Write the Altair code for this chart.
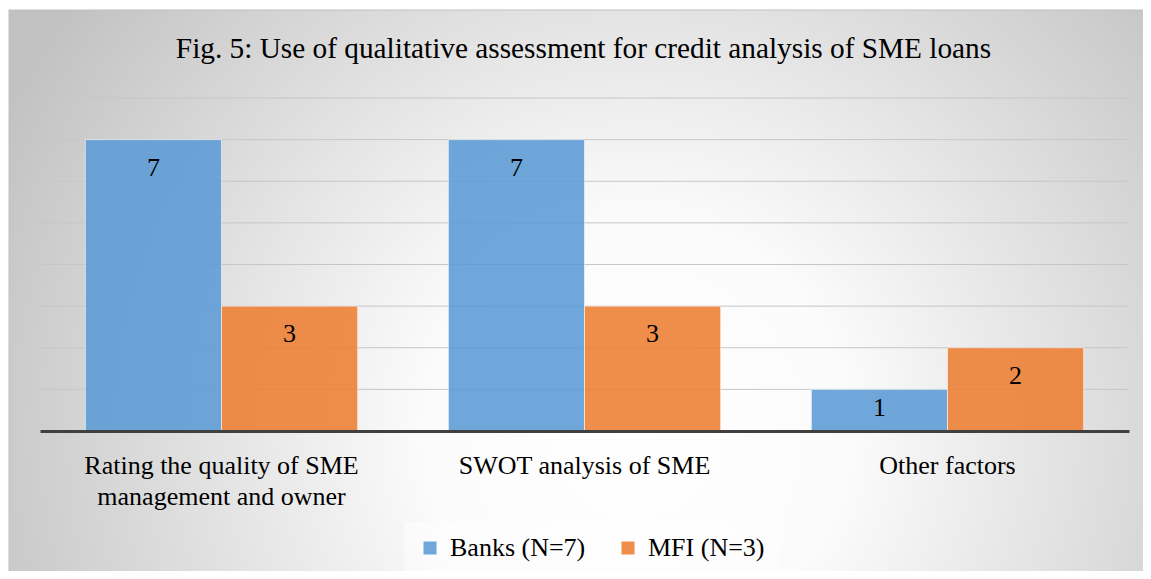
import altair as alt
import pandas as pd

# ---- data -------------------------------------------------------------
categories = ["Rating the quality of SME|management and owner",
              "SWOT analysis of SME",
              "Other factors"]
series = ["Banks (N=7)", "MFI (N=3)"]
banks = [7, 7, 1]
mfi = [3, 3, 2]
grid_values = [1, 2, 3, 4, 5, 6, 7, 8]
title_text = "Fig. 5: Use of qualitative assessment for credit analysis of SME loans"
colors = ["#5B9BD5", "#ED7D31"]

rows = []
for c, b, m in zip(categories, banks, mfi):
    rows.append({"category": c, "series": series[0], "value": b})
    rows.append({"category": c, "series": series[1], "value": m})
df = pd.DataFrame(rows)

# ---- layout -----------------------------------------------------------
W, H = 1089, 333
FONT = "Liberation Serif"

yscale = alt.Scale(domain=[0, 8], nice=False, zero=True)
xscale = alt.Scale(paddingInner=0.25, paddingOuter=0.125)
xaxis = alt.Axis(title=None, labelExpr="split(datum.label, '|')", labelAngle=0,
                 labelFont=FONT, labelFontSize=26, labelColor="black",
                 labelLineHeight=31, labelPadding=21, labelLimit=0,
                 ticks=False, tickSize=0, domainColor="#404040", domainWidth=3,
                 grid=False, zindex=1)

gradient = {
    "gradient": "radial",
    "x1": 0.55, "y1": 0.62, "r1": 0,
    "x2": 0.55, "y2": 0.62, "r2": 0.62,
    "stops": [
        {"offset": 0.0, "color": "#ffffff"},
        {"offset": 0.3, "color": "#fbfbfb"},
        {"offset": 1.0, "color": "#c2c2c2"},
    ],
}

bg = alt.Chart(pd.DataFrame({"a": [0]})).mark_rect(
    fill=gradient, stroke="#bfbfbf", strokeWidth=1
).encode(x=alt.value(-31), x2=alt.value(1111), y=alt.value(-88), y2=alt.value(481))

grid = alt.Chart(pd.DataFrame({"g": grid_values})).mark_rule(
    color="#c6c6c6", strokeWidth=1
).encode(y=alt.Y("g:Q", scale=yscale, axis=None), x=alt.value(0), x2=alt.value(W))

xenc = alt.X("category:N", sort=categories, scale=xscale, axis=xaxis)
xoff = alt.XOffset("series:N", sort=series, scale=alt.Scale(paddingInner=0, paddingOuter=0))

bars = alt.Chart(df).mark_bar(
    fillOpacity=0.88, stroke="white", strokeWidth=1, strokeOpacity=0.55
).encode(
    x=xenc,
    xOffset=xoff,
    y=alt.Y("value:Q", scale=yscale, axis=None),
    color=alt.Color("series:N", sort=series,
                    scale=alt.Scale(domain=series, range=colors),
                    legend=alt.Legend(title=None, orient="none", legendX=364, legendY=424,
                                      direction="horizontal", symbolType="square",
                                      symbolSize=169, symbolStrokeWidth=0,
                                      symbolOpacity=0.88,
                                      labelFont=FONT, labelFontSize=26, labelColor="black",
                                      labelOffset=7, columnPadding=29,
                                      fillColor="rgba(255,255,255,0.45)", padding=13)),
)

labels = alt.Chart(df).transform_calculate(
    pos="max(datum.value - 0.68, datum.value * 0.55)"
).mark_text(font=FONT, fontSize=26, color="black", baseline="middle").encode(
    x=xenc,
    xOffset=xoff,
    y=alt.Y("pos:Q", scale=yscale, axis=None),
    text="value:Q",
)

title = alt.Chart(pd.DataFrame({"t": [title_text]})).mark_text(
    font=FONT, fontSize=29.3, color="black", baseline="alphabetic", align="center"
).encode(x=alt.value(W / 2 - 1), y=alt.value(-40), text="t:N")

chart = alt.layer(bg, grid, bars, labels, title).properties(
    width=W, height=H,
    autosize="none",
    padding={"left": 32, "top": 90, "right": 14, "bottom": 140},
    background="white",
).configure_view(stroke=None)

chart.save("out.html", embed_options={"renderer": "svg", "actions": False})
